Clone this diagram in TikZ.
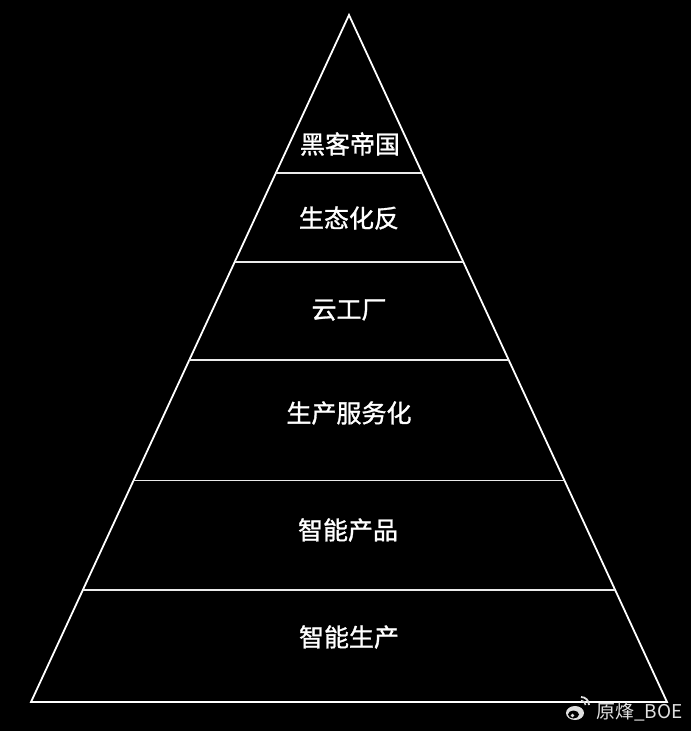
\documentclass[tikz,border=0pt]{standalone}
\usepackage{fontspec}
\newfontfamily\cjk{Noto Sans CJK SC}[FakeBold=1.2]
\newfontfamily\cjkthin{Noto Sans CJK SC}
\usetikzlibrary{calc}
\begin{document}
\begin{tikzpicture}[x=1pt, y=-1pt,
    tier/.style={font=\cjk\fontsize{25}{30}\selectfont, text=white, inner sep=0pt},
    outline/.style={draw=white, line width=1.8pt, line join=miter},
    divider/.style={draw=white!92!black, line width=1.3pt},
    credittext/.style={font=\cjkthin\fontsize{19}{23}\selectfont, text=white!88!black, inner sep=0pt},
]
\fill[black] (0,0) rectangle (691,731);
\useasboundingbox (0,0) rectangle (691,731);

% pyramid outline
\coordinate (apex) at (349,15);
\coordinate (bl) at (31,702);
\coordinate (br) at (667,702);
\draw[outline] (apex) -- (br) -- (bl) -- cycle;

% layer dividers
\foreach \t [count=\i] in {0.230, 0.3595, 0.502, 0.678, 0.837} {
    \coordinate (l\i) at ($(apex)!\t!(bl)$);
    \coordinate (r\i) at ($(apex)!\t!(br)$);
    \draw[divider] (l\i) -- (r\i);
}

% layer labels (top to bottom)
\node[tier] (hacker) at (350,144) {黑客帝国};
\node[tier] (eco) at (349,218) {生态化反};
\node[tier] (cloud) at (349,310) {云工厂};
\node[tier] (service) at (349,413) {生产服务化};
\node[tier] (product) at (348,530) {智能产品};
\node[tier] (making) at (349,637) {智能生产};

% watermark
\fill[white!88!black] (575,713) ellipse [x radius=9, y radius=7];
\fill[black] (573.5,714.5) ellipse [x radius=5.5, y radius=4];
\fill[white!88!black] (572.5,715.5) circle [radius=1.8];
\draw[white!88!black, line width=1.8pt] (581,697) arc [start angle=-90, end angle=0, radius=8];
\draw[white!88!black, line width=1.5pt] (581,700.5) arc [start angle=-90, end angle=0, radius=4.5];
\node[credittext, anchor=west] (credit) at (596,712) {原烽\_BOE};
\end{tikzpicture}
\end{document}
